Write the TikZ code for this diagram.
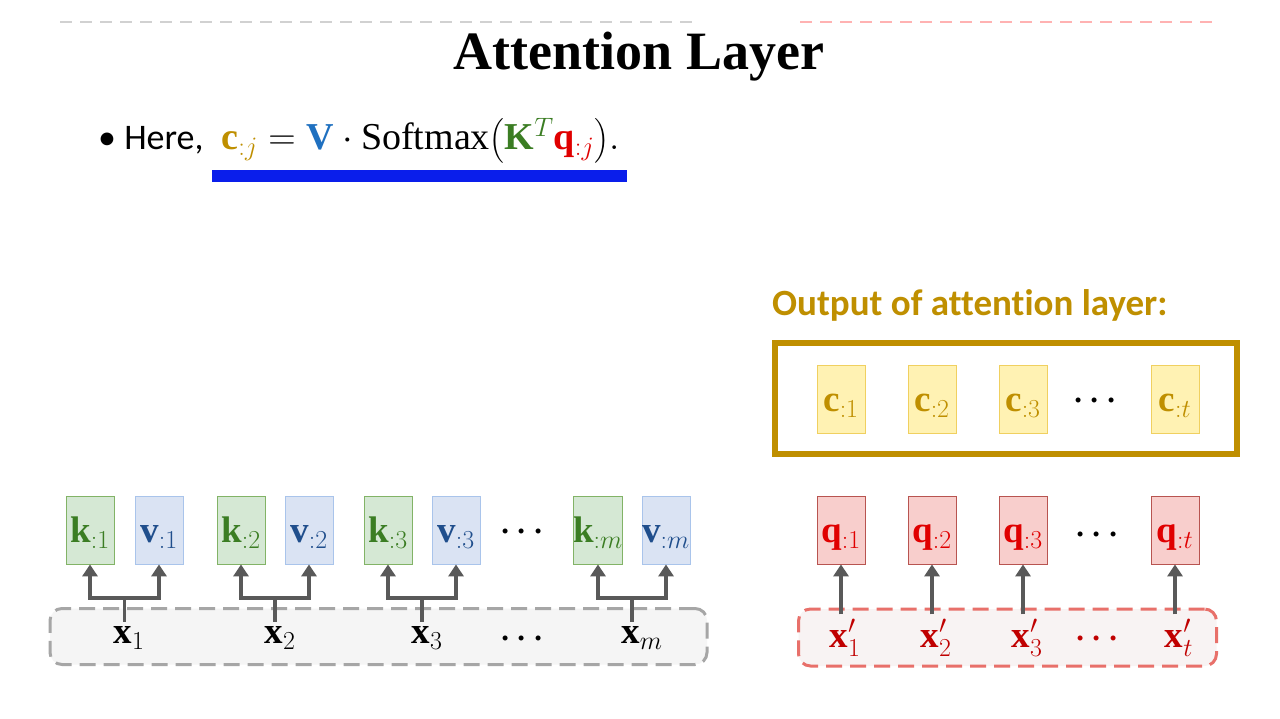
\RequirePackage{fix-cm}
\documentclass[tikz,border=0pt]{standalone}
\usepackage{amsmath}
\usepackage{bm}
\usepackage{fontspec}
\setmainfont{Liberation Serif}
\newfontfamily\calibri[Ligatures=NoCommon]{Carlito}
\usetikzlibrary{arrows.meta}
\definecolor{kfill}{HTML}{D5E8D4}
\definecolor{kline}{HTML}{82B366}
\definecolor{ktext}{HTML}{3B7D23}
\definecolor{vfill}{HTML}{DAE3F3}
\definecolor{vline}{HTML}{A9C4EB}
\definecolor{vtext}{HTML}{1F4E8C}
\definecolor{cfill}{HTML}{FFF2B3}
\definecolor{cline}{HTML}{F0D060}
\definecolor{gold}{HTML}{BF8F00}
\definecolor{qfill}{HTML}{F8CECC}
\definecolor{qline}{HTML}{B85450}
\definecolor{qtext}{HTML}{E00000}
\definecolor{xptext}{HTML}{C00000}
\definecolor{arrgray}{HTML}{595959}
\definecolor{vblue}{HTML}{1F70C0}
\definecolor{bargblue}{HTML}{0A1EEB}
\definecolor{xpline}{HTML}{E8706A}
\definecolor{xpfill}{HTML}{F8F3F3}
\begin{document}
\begin{tikzpicture}[x=1pt,y=-1pt,
  vecbox/.style={minimum width=48pt,minimum height=68pt,inner sep=0pt,line width=0.8pt,
    text height=29pt,text depth=4pt,
    font=\fontsize{37}{42}\selectfont},
  kbox/.style={vecbox,draw=kline,fill=kfill,text=ktext},
  vbox/.style={vecbox,draw=vline,fill=vfill,text=vtext},
  cbox/.style={vecbox,draw=cline,fill=cfill,text=gold},
  qbox/.style={vecbox,draw=qline,fill=qfill,text=qtext},
  xlab/.style={inner sep=1pt,font=\fontsize{37}{42}\selectfont},
  dotsnode/.style={inner sep=0pt,font=\fontsize{32}{36}\selectfont},
  feed/.style={draw=arrgray,line width=3.5pt},
  feedarrow/.style={feed,-{Triangle[width=15pt,length=12pt]}},
]
\useasboundingbox[fill=white] (0,0) rectangle (1280,719);

% faint ghost dashes at top
\draw[black!18,dash pattern=on 12pt off 8pt,line width=1.5pt] (60,22) -- (692,22);
\draw[red!30,dash pattern=on 12pt off 8pt,line width=1.5pt] (800,22) -- (1215,22);

% title
\node[font=\fontsize{54}{60}\selectfont\bfseries] (title) at (639,57) {Attention Layer};

% formula line
\node[anchor=base west,inner sep=0pt,font=\fontsize{36}{42}\selectfont] (formula) at (98,150)
  {{\calibri\textbullet\ Here,}\ \ {\fontsize{38}{44}\selectfont$\textcolor{gold}{\mathbf{c}_{:j}} = \textcolor{vblue}{\mathbf{V}}\cdot\mathrm{Softmax}\big(\textcolor{ktext}{\mathbf{K}^{T}}\textcolor{qtext}{\mathbf{q}_{:j}}\big).$}};
\node[fill=bargblue,minimum width=415pt,minimum height=12pt,inner sep=0pt] (bar) at (419.5,176) {};

% left: keys and values
\node[kbox] (k1) at (90,530) {$\mathbf{k}_{:1}$};
\node[vbox] (v1) at (159,530) {$\mathbf{v}_{:1}$};
\node[kbox] (k2) at (241,530) {$\mathbf{k}_{:2}$};
\node[vbox] (v2) at (309,530) {$\mathbf{v}_{:2}$};
\node[kbox] (k3) at (388,530) {$\mathbf{k}_{:3}$};
\node[vbox] (v3) at (456,530) {$\mathbf{v}_{:3}$};
\node[dotsnode] (kvdots) at (525,532) {$\bm{\cdots}$};
\node[kbox] (km) at (598,530) {$\mathbf{k}_{:m}$};
\node[vbox] (vm) at (666,530) {$\mathbf{v}_{:m}$};

\node[draw=black!35,fill=black!4,dash pattern=on 16pt off 8pt,line width=3pt,rounded corners=12pt,
  minimum width=657pt,minimum height=56pt] (xgroup) at (378.5,636.5) {};

\node[xlab] (x1) at (129,638) {$\mathbf{x}_1$};
\node[xlab] (x2) at (280,638) {$\mathbf{x}_2$};
\node[xlab] (x3) at (427,638) {$\mathbf{x}_3$};
\node[dotsnode] (xdots) at (525,639) {$\bm{\cdots}$};
\node[xlab] (xm) at (642,638) {$\mathbf{x}_m$};

\coordinate (j1) at (124.5,598);
\coordinate (j2) at (275,598);
\coordinate (j3) at (422,598);
\coordinate (jm) at (632,598);
\foreach \j/\x/\k/\v in {j1/x1/k1/v1,j2/x2/k2/v2,j3/x3/k3/v3,jm/xm/km/vm}{
  \draw[feed] ([yshift=4pt]\j |- \x.north) -- (\j);
  \draw[feedarrow] (\j) -| (\k.south);
  \draw[feedarrow] (\j) -| (\v.south);
}

% right: output
\node[anchor=base west,inner sep=0pt,text=gold,font=\calibri\bfseries\fontsize{37}{42}\selectfont] (outlabel) at (772,316) {Output of attention layer:};
\node[draw=gold,line width=6pt,minimum width=462pt,minimum height=111pt,inner sep=0pt] (frame) at (1006,398.5) {};
\node[cbox] (c1) at (841,399) {$\mathbf{c}_{:1}$};
\node[cbox] (c2) at (932,399) {$\mathbf{c}_{:2}$};
\node[cbox] (c3) at (1023,399) {$\mathbf{c}_{:3}$};
\node[dotsnode] (cdots) at (1098,401) {$\bm{\cdots}$};
\node[cbox] (ct) at (1175,399) {$\mathbf{c}_{:t}$};

% queries
\node[qbox] (q1) at (841,530) {$\mathbf{q}_{:1}$};
\node[qbox] (q2) at (932,530) {$\mathbf{q}_{:2}$};
\node[qbox] (q3) at (1023,530) {$\mathbf{q}_{:3}$};
\node[dotsnode] (qdots) at (1100,535) {$\bm{\cdots}$};
\node[qbox] (qt) at (1175,530) {$\mathbf{q}_{:t}$};

\node[draw=xpline,fill=xpfill,dash pattern=on 16pt off 8pt,line width=3pt,rounded corners=12pt,
  minimum width=418pt,minimum height=57pt] (xpgroup) at (1007.5,637.5) {};

\node[xlab,text=xptext] (xp1) at (845,638) {$\mathbf{x}'_1$};
\node[xlab,text=xptext] (xp2) at (936,638) {$\mathbf{x}'_2$};
\node[xlab,text=xptext] (xp3) at (1027,638) {$\mathbf{x}'_3$};
\node[dotsnode,text=xptext] (xpdots) at (1100,639) {$\bm{\cdots}$};
\node[xlab,text=xptext] (xpt) at (1179,638) {$\mathbf{x}'_t$};

\foreach \x/\q in {xp1/q1,xp2/q2,xp3/q3,xpt/qt}{
  \draw[feedarrow] ([yshift=4pt]\q.south |- \x.north) -- (\q.south);
}
\end{tikzpicture}
\end{document}
